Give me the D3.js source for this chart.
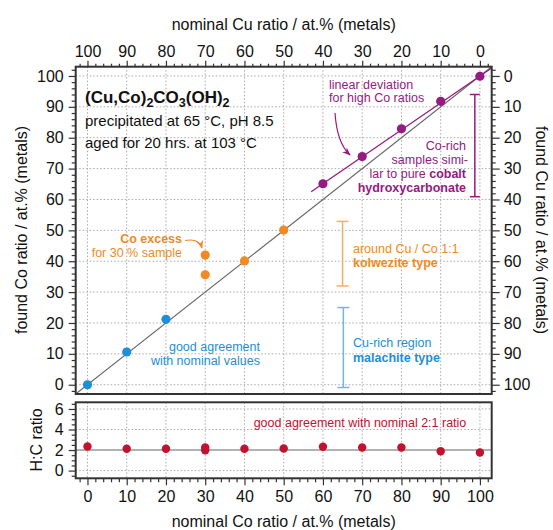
<!DOCTYPE html>
<html><head><meta charset="utf-8">
<script src="https://cdn.jsdelivr.net/npm/d3@7"></script>
<style>body{margin:0;background:#fff} svg{display:block} text{font-family:"Liberation Sans",Arial,sans-serif}</style>
</head><body><svg id="c" width="553" height="530"></svg>
<script>
// ---- data ----
const blueX = [0, 10, 20];
const blueY = [0, 10.6, 21.2];
const orangeX = [30, 30, 40, 50];
const orangeY = [42.0, 35.6, 40.1, 50.1];
const purpleX = [60, 70, 80, 90, 100];
const purpleY = [65.1, 73.9, 82.9, 91.8, 99.9];
const fitX = [57, 103];
const fitY = [62.5, 102.6];
const hcX = [0, 10, 20, 30, 30, 40, 50, 60, 70, 80, 90, 100];
const hcY = [2.34, 2.12, 2.12, 2.25, 1.98, 2.12, 2.15, 2.32, 2.25, 2.25, 1.88, 1.76];
const rangeNames = ["malachite", "kolwezite", "cobalt"];
const rangeX = [65.2, 65.0, 98.7];
const rangeLo = [-0.9, 32.0, 60.9];
const rangeHi = [25.0, 52.9, 94.0];
const majorTicks = [0, 10, 20, 30, 40, 50, 60, 70, 80, 90, 100];
const hcTicks = [0, 2, 4, 6];

const C = {blue: "#1c8fd6", blueL: "#6db8e6", orange: "#f08a24", orangeL: "#f5ad68",
           purple: "#951a81", red: "#c1122f", frame: "#333", grid: "#aaa"};

const svg = d3.select("#c");
const L = 75.7, R = 491.7, T = 66.7, B = 394, T2 = 402.3, B2 = 478.3;
const x = d3.scaleLinear([-3, 103], [L, R]);
const y = d3.scaleLinear([-3, 103], [B, T]);
const xCu = d3.scaleLinear([103, -3], [L, R]);
const yCu = d3.scaleLinear([103, -3], [B, T]);
const yh = d3.scaleLinear([-0.75, 6.65], [B2, T2]);

const minorMain = d3.range(-2, 103, 2).filter(v => v % 10 !== 0);
const minorHC = d3.range(-0.5, 6.6, 0.5).filter(v => v % 2 !== 0);

// grids
const g = svg.append("g");
function vgrid(y0, y1) {
  g.selectAll(null).data(majorTicks).join("line")
    .attr("x1", d => x(d)).attr("x2", d => x(d)).attr("y1", y0).attr("y2", y1)
    .attr("stroke", C.grid).attr("stroke-dasharray", "1.5,2");
}
vgrid(T, B); vgrid(T2, B2);
g.selectAll(null).data(majorTicks).join("line")
  .attr("x1", L).attr("x2", R).attr("y1", d => y(d)).attr("y2", d => y(d))
  .attr("stroke", C.grid).attr("stroke-dasharray", "1.5,2");
g.selectAll(null).data([0, 4, 6]).join("line")
  .attr("x1", L).attr("x2", R).attr("y1", d => yh(d)).attr("y2", d => yh(d))
  .attr("stroke", C.grid).attr("stroke-dasharray", "1.5,2");

// axes
function styleAxis(sel) {
  sel.select(".domain").remove();
  sel.selectAll("line").attr("stroke", C.frame).attr("stroke-width", 1.2);
  sel.selectAll("text").attr("font-size", 16).attr("fill", "#111")
     .attr("font-family", '"Liberation Sans",Arial,sans-serif');
}
function axis(gen, tx, ty) {
  svg.append("g").attr("transform", `translate(${tx},${ty})`).call(gen).call(styleAxis);
}
axis(d3.axisLeft(y).tickValues(majorTicks).tickSize(7).tickPadding(5), L, 0);
axis(d3.axisLeft(y).tickValues(minorMain).tickSize(4).tickFormat(""), L, 0);
axis(d3.axisTop(xCu).tickValues(majorTicks).tickSize(6).tickPadding(4), 0, T);
axis(d3.axisTop(xCu).tickValues(minorMain).tickSize(3).tickFormat(""), 0, T);
axis(d3.axisRight(yCu).tickValues(majorTicks).tickSize(8).tickPadding(4), R, 0);
axis(d3.axisRight(yCu).tickValues(minorMain).tickSize(4).tickFormat(""), R, 0);
axis(d3.axisBottom(x).tickValues(majorTicks).tickSize(7).tickPadding(5), 0, B2);
axis(d3.axisBottom(x).tickValues(minorMain).tickSize(4).tickFormat(""), 0, B2);
axis(d3.axisLeft(yh).tickValues(hcTicks).tickSize(7).tickPadding(5), L, 0);
axis(d3.axisLeft(yh).tickValues(minorHC).tickSize(4).tickFormat(""), L, 0);

// clip
svg.append("clipPath").attr("id", "cm").append("rect").attr("x", L).attr("y", T).attr("width", R - L).attr("height", B - T);
const main = svg.append("g").attr("clip-path", "url(#cm)");
const line = d3.line().x(d => x(d[0])).y(d => y(d[1]));
main.append("path").attr("d", line([[-3, -3], [103, 103]])).attr("stroke", "#666").attr("stroke-width", 1.1).attr("fill", "none");
main.append("path").attr("d", line(fitX.map((v, i) => [v, fitY[i]]))).attr("stroke", C.purple).attr("stroke-width", 1.3).attr("fill", "none");

// range brackets
const rcol = [C.blueL, C.orangeL, C.purple];
const capW = [6, 6, 5];
rangeNames.forEach((n, i) => {
  const gg = svg.append("g").attr("stroke", rcol[i]).attr("stroke-width", 1.5);
  const xx = x(rangeX[i]);
  gg.append("line").attr("x1", xx).attr("x2", xx).attr("y1", y(rangeLo[i])).attr("y2", y(rangeHi[i]));
  [rangeLo[i], rangeHi[i]].forEach(v => gg.append("line").attr("x1", xx - capW[i]).attr("x2", xx + capW[i]).attr("y1", y(v)).attr("y2", y(v)));
});

// points
function pts(xs, ys, col, sy, r) {
  svg.selectAll(null).data(xs.map((v, i) => [v, ys[i]])).join("circle")
    .attr("cx", d => x(d[0])).attr("cy", d => sy(d[1])).attr("r", r).attr("fill", col);
}
pts(blueX, blueY, C.blue, y, 4.6);
pts(orangeX, orangeY, C.orange, y, 4.6);
pts(purpleX, purpleY, C.purple, y, 4.6);

// lower panel
svg.append("line").attr("x1", L).attr("x2", R).attr("y1", yh(2)).attr("y2", yh(2)).attr("stroke", "#666").attr("stroke-width", 1.1);
pts(hcX, hcY, C.red, yh, 4.2);

// frames
svg.append("rect").attr("x", L).attr("y", T).attr("width", R - L).attr("height", B - T).attr("fill", "none").attr("stroke", C.frame).attr("stroke-width", 2);
svg.append("rect").attr("x", L).attr("y", T2).attr("width", R - L).attr("height", B2 - T2).attr("fill", "none").attr("stroke", C.frame).attr("stroke-width", 2);

// axis titles
function txt(t, xx, yy, opt = {}) {
  const e = svg.append("text").attr("x", xx).attr("y", yy).text(t)
    .attr("font-size", opt.size || 16).attr("fill", opt.fill || "#111")
    .attr("text-anchor", opt.anchor || "start").attr("dominant-baseline", "central");
  if (opt.bold) e.attr("font-weight", "bold");
  if (opt.rot) e.attr("transform", `rotate(${opt.rot},${xx},${yy})`);
  return e;
}
txt("nominal Cu ratio / at.% (metals)", 283.7, 24, {anchor: "middle"});
txt("nominal Co ratio / at.% (metals)", 283.7, 521, {anchor: "middle"});
txt("found Co ratio / at.% (metals)", 21, 230, {anchor: "middle", rot: -90});
txt("found Cu ratio / at.% (metals)", 541, 230, {anchor: "middle", rot: 90});
txt("H:C ratio", 36, 440, {anchor: "middle", rot: -90});

// title block
const tt = svg.append("text").attr("x", 85).attr("y", 103).attr("font-size", 17).attr("font-weight", "bold").attr("fill", "#111");
[["(Cu,Co)", 0, 0], ["2", 1, 4], ["CO", 0, -4], ["3", 1, 4], ["(OH)", 0, -4], ["2", 1, 4]].forEach(([s, sub, dy]) => {
  const ts = tt.append("tspan").text(s).attr("dy", dy);
  if (sub) ts.attr("font-size", 12.5);
});
txt("precipitated at 65 °C, pH 8.5", 85, 120, {size: 15});
txt("aged for 20 hrs. at 103 °C", 85, 142.7, {size: 15});

// annotations
const A = 12.5;
txt("linear deviation", 329, 85, {size: A, fill: C.purple});
txt("for high Co ratios", 329, 97.5, {size: A, fill: C.purple});
txt("Co-rich", 466, 146, {size: A, fill: C.purple, anchor: "end"});
txt("samples simi-", 468, 160, {size: A, fill: C.purple, anchor: "end"});
const l3 = txt("lar to pure ", 466, 174.3, {size: A, fill: C.purple, anchor: "end"});
l3.append("tspan").attr("font-weight", "bold").text("cobalt");
txt("hydroxycarbonate", 466, 188, {size: A, fill: C.purple, anchor: "end", bold: true});

txt("Co excess", 182, 238.5, {size: A, fill: C.orange, anchor: "end", bold: true});
txt("for 30 % sample", 182, 252.5, {size: A, fill: C.orange, anchor: "end"});
txt("around Cu / Co 1:1", 353, 248.5, {size: A, fill: C.orange});
txt("kolwezite type", 353, 262.5, {size: A, fill: C.orange, bold: true});

txt("good agreement", 260, 346.7, {size: A, fill: C.blue, anchor: "end"});
txt("with nominal values", 260, 360.5, {size: A, fill: C.blue, anchor: "end"});
txt("Cu-rich region", 353, 343.3, {size: A, fill: C.blue});
txt("malachite type", 353, 357.7, {size: A, fill: C.blue, bold: true});

txt("good agreement with nominal 2:1 ratio", 360, 422.5, {size: A, fill: C.red, anchor: "middle"});

// arrows
const defs = svg.append("defs");
function marker(id, col) {
  defs.append("marker").attr("id", id).attr("viewBox", "0 0 10 10").attr("refX", 9).attr("refY", 5)
    .attr("markerWidth", 7).attr("markerHeight", 7).attr("orient", "auto")
    .append("path").attr("d", "M0,1 L10,5 L0,9 L3,5 Z").attr("fill", col);
}
marker("ap", C.purple); marker("ao", C.orange);
svg.append("path").attr("d", "M335,113 Q337,143 350,155").attr("fill", "none").attr("stroke", C.purple).attr("stroke-width", 1.2).attr("marker-end", "url(#ap)");
svg.append("path").attr("d", "M185,240.5 Q199,238 202,248").attr("fill", "none").attr("stroke", C.orange).attr("stroke-width", 1.2).attr("marker-end", "url(#ao)");
</script></body></html>
